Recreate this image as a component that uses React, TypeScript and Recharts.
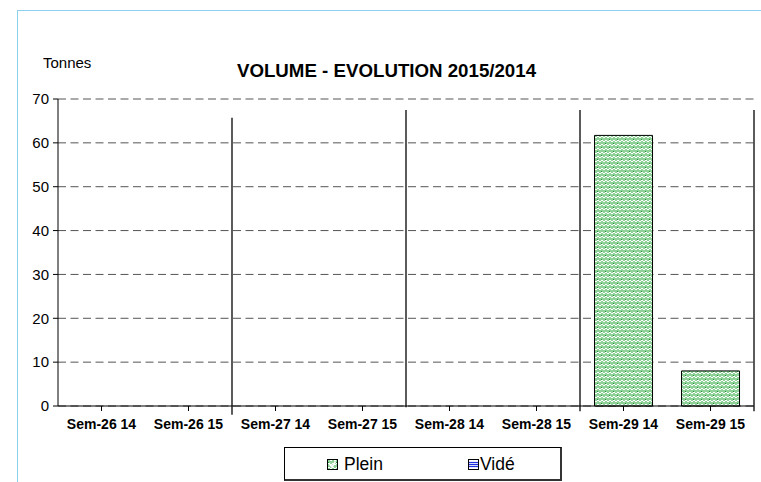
import React from "react";
import { BarChart, Bar, XAxis, YAxis, CartesianGrid, ReferenceLine, Legend } from "recharts";

const categories = ["Sem-26 14", "Sem-26 15", "Sem-27 14", "Sem-27 15", "Sem-28 14", "Sem-28 15", "Sem-29 14", "Sem-29 15"];
const pleinValues = [0, 0, 0, 0, 0, 0, 61.7, 8];
const videValues = [0, 0, 0, 0, 0, 0, 0, 0];
const yTicks = [0, 10, 20, 30, 40, 50, 60, 70];
const separators: { cat: string; pos: "start" | "end"; top: number; bottom: number }[] = [
  { cat: "Sem-27 14", pos: "start", top: 65.7, bottom: -2 },
  { cat: "Sem-28 14", pos: "start", top: 67.5, bottom: -0.3 },
  { cat: "Sem-29 14", pos: "start", top: 67.5, bottom: -1.2 },
  { cat: "Sem-29 15", pos: "end", top: 67.5, bottom: -1.2 },
];

const data = categories.map((c, i) => ({ name: c, plein: pleinValues[i], vide: videValues[i] }));

const FONT = "'Liberation Sans', Arial, sans-serif";

const LegendContent = () => (
  <div
    style={{
      position: "absolute",
      left: 284,
      top: 447,
      width: 278,
      height: 34,
      borderTop: "1px solid #000",
      borderLeft: "1px solid #000",
      borderRight: "2px solid #333",
      borderBottom: "2px solid #333",
      boxSizing: "border-box",
      background: "#fff",
      fontFamily: FONT,
      fontSize: 17.5,
      color: "#000",
    }}
  >
    <div style={{ position: "absolute", left: 42, top: 6, display: "flex", alignItems: "center" }}>
      <svg width="11" height="11" style={{ marginRight: 6 }}>
        <rect x="0.5" y="0.5" width="10" height="10" fill="url(#weave)" stroke="#000" />
        <path d="M2.5 5 L5 8 L8.5 2.5" stroke="#fff" strokeWidth="1.6" fill="none" />
      </svg>
      <span>Plein</span>
    </div>
    <div style={{ position: "absolute", left: 183, top: 6, display: "flex", alignItems: "center" }}>
      <svg width="11" height="11" style={{ marginRight: 1 }}>
        <rect x="0.5" y="0.5" width="10" height="10" fill="#fff" stroke="#000" />
        <line x1="1" y1="3.5" x2="10" y2="3.5" stroke="#2233dd" strokeWidth="1.2" />
        <line x1="1" y1="5.5" x2="10" y2="5.5" stroke="#2233dd" strokeWidth="1.2" />
        <line x1="1" y1="7.5" x2="10" y2="7.5" stroke="#2233dd" strokeWidth="1.2" />
      </svg>
      <span>Vidé</span>
    </div>
  </div>
);

export default function App() {
  return (
    <div style={{ position: "absolute", left: 0, top: 0, width: 761, height: 482, background: "#fff", fontFamily: FONT, overflow: "hidden" }}>
      <div style={{ position: "absolute", left: 17, top: 10, width: 761, height: 482, borderTop: "1px solid #8fd0ee", borderLeft: "1px solid #8fd0ee" }} />
      <div style={{ position: "absolute", left: 43, top: 54, fontSize: 15, color: "#000", lineHeight: "17px" }}>Tonnes</div>
      <div style={{ position: "absolute", left: 0, width: 773, top: 60, textAlign: "center", fontSize: 18.7, fontWeight: "bold", color: "#000", lineHeight: "21px" }}>
        VOLUME - EVOLUTION 2015/2014
      </div>
      <svg width="0" height="0" style={{ position: "absolute" }}>
        <defs>
          <pattern id="weave" patternUnits="userSpaceOnUse" width="8" height="8">
            <rect width="8" height="8" fill="#8fd199" />
            <path d="M0 2 L2 0 L4 2 L6 0 L8 2" stroke="#ffffff" strokeWidth="1" fill="none" />
            <path d="M0 6 L2 4 L4 6 L6 4 L8 6" stroke="#ffffff" strokeWidth="1" fill="none" />
            <rect x="1" y="3" width="1" height="1" fill="#1f9a2e" />
            <rect x="5" y="7" width="1" height="1" fill="#1f9a2e" />
          </pattern>
        </defs>
      </svg>
      <div style={{ position: "absolute", left: 0, top: 0 }}>
        <BarChart
          width={761}
          height={482}
          data={data}
          margin={{ top: 99, right: 7, left: 18, bottom: 46 }}
          barCategoryGap="16.7%"
        >
          <CartesianGrid horizontal vertical={false} stroke="#555" strokeDasharray="8 4.5" />
          <XAxis
            dataKey="name"
            interval={0}
            tickLine={{ stroke: "#000" }}
            axisLine={{ stroke: "#000" }}
            tickSize={5}
            tickMargin={8}
            height={30}
            tick={{ fontSize: 14, fontWeight: "bold", fill: "#000", fontFamily: FONT }}
          />
          <YAxis
            domain={[0, 70]}
            ticks={yTicks}
            interval={0}
            width={40}
            tickSize={5}
            tickMargin={4}
            tickLine={{ stroke: "#000" }}
            axisLine={{ stroke: "#000" }}
            tick={{ fontSize: 15, fill: "#000", fontFamily: FONT }}
          />
          {separators.map((s, i) => (
            <ReferenceLine
              key={i}
              position={s.pos}
              segment={[{ x: s.cat, y: s.bottom }, { x: s.cat, y: s.top }]}
              stroke="#333"
              strokeWidth={1.6}
              ifOverflow="visible"
            />
          ))}
          <Bar dataKey="plein" name="Plein" stackId="a" fill="url(#weave)" stroke="#000" strokeWidth={1} isAnimationActive={false} />
          <Bar dataKey="vide" name="Vidé" stackId="a" fill="#fff" stroke="#000" isAnimationActive={false} />
          <Legend content={<LegendContent />} wrapperStyle={{ position: "absolute", left: 0, top: 0, width: 0, height: 0 }} />
        </BarChart>
      </div>
    </div>
  );
}
